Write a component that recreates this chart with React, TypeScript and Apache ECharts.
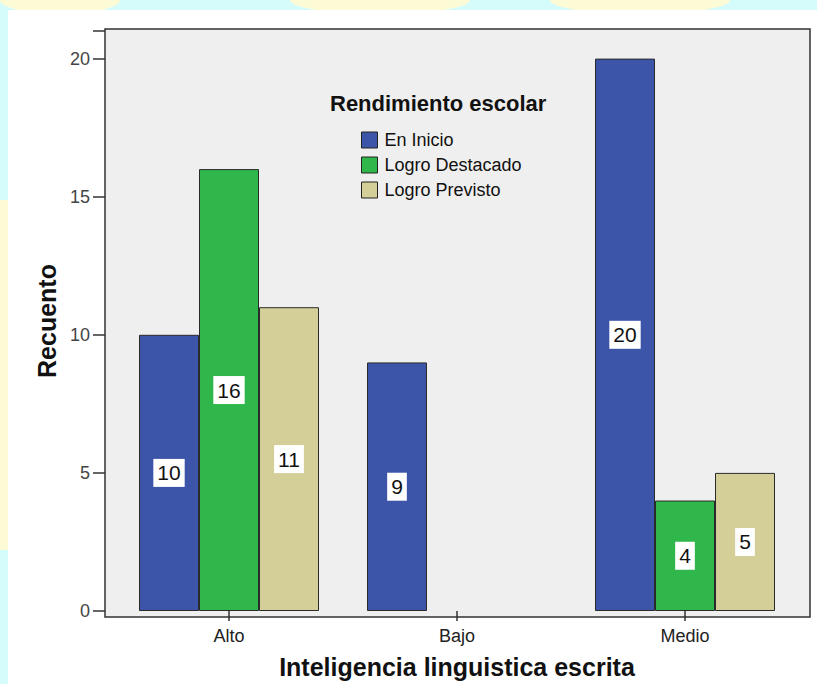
import React, { useEffect, useRef } from "react";
import * as echarts from "echarts";

const categories = ["Alto", "Bajo", "Medio"];
const seriesNames = ["En Inicio", "Logro Destacado", "Logro Previsto"];
const enInicio = [10, 9, 20];
const logroDestacado: (number | null)[] = [16, null, 4];
const logroPrevisto: (number | null)[] = [11, null, 5];
const yTicks = [0, 5, 10, 15, 20];

const colors = ["#3d55a8", "#30b74b", "#d4cf98"];
const FONT = "'Liberation Sans', Arial, sans-serif";

export default function App() {
  const ref = useRef<HTMLDivElement>(null);
  useEffect(() => {
    if (!ref.current) return;
    const chart = echarts.init(ref.current, undefined, { renderer: "svg" });
    const values = [enInicio, logroDestacado, logroPrevisto];
    const series = seriesNames.map((name, i) => ({
      name,
      type: "bar" as const,
      data: values[i],
      barWidth: 60,
      barGap: "0%",
      itemStyle: { color: colors[i], borderColor: "#2a2a2a", borderWidth: 1 },
      label: {
        show: true,
        position: "inside" as const,
        backgroundColor: "#ffffff",
        color: "#111",
        fontSize: 21,
        fontFamily: FONT,
        padding: [4, 4, 3, 4],
      },
      z: 3,
    }));
    chart.setOption({
      animation: false,
      backgroundColor: "#d6fbfb",
      textStyle: { fontFamily: FONT },
      graphic: [
        { type: "ellipse", shape: { cx: 60, cy: 0, rx: 60, ry: 14 }, style: { fill: "#fdfbd6" }, z: -10 },
        { type: "ellipse", shape: { cx: 380, cy: 0, rx: 90, ry: 14 }, style: { fill: "#fdfbd6" }, z: -10 },
        { type: "ellipse", shape: { cx: 640, cy: 0, rx: 90, ry: 14 }, style: { fill: "#fdfbd6" }, z: -10 },
        { type: "rect", shape: { x: 0, y: 200, width: 8, height: 350 }, style: { fill: "#fdfbd6" }, z: -10 },
        { type: "rect", shape: { x: 8, y: 10, width: 809, height: 674 }, style: { fill: "#ffffff" }, z: -9 },
        {
          type: "rect",
          shape: { x: 105, y: 29, width: 705, height: 588 },
          style: { fill: "#efefef", stroke: "#333", lineWidth: 1.5 },
          z: -8,
        },
      ],
      title: {
        text: "Rendimiento escolar",
        left: 330,
        top: 92,
        padding: 0,
        textStyle: { fontSize: 22, fontWeight: "bold", color: "#111", fontFamily: FONT },
      },
      legend: {
        orient: "vertical",
        left: 361,
        top: 131,
        padding: 0,
        itemWidth: 16,
        itemHeight: 16,
        itemGap: 7,
        icon: "rect",
        itemStyle: { borderColor: "#222", borderWidth: 1 },
        textStyle: { fontSize: 18, color: "#111", fontFamily: FONT, padding: [0, 0, 0, 2] },
        data: seriesNames,
      },
      grid: { left: 115, width: 684, top: 31, height: 586 },
      xAxis: {
        type: "category",
        data: categories,
        axisLine: { show: false },
        axisTick: { show: true, alignWithLabel: true, length: 10, lineStyle: { color: "#333", width: 1.5 } },
        axisLabel: { fontSize: 18, color: "#222", margin: 16 },
        name: "Inteligencia linguistica escrita",
        nameLocation: "middle",
        nameGap: 43,
        nameTextStyle: { fontSize: 25, fontWeight: "bold", color: "#111" },
      },
      yAxis: {
        type: "value",
        min: 0,
        max: 21,
        interval: 5,
        offset: 10,
        axisLine: { show: false },
        axisTick: { show: true, length: 12, lineStyle: { color: "#333", width: 1.5 } },
        splitLine: { show: false },
        axisLabel: {
          fontSize: 18,
          color: "#444",
          margin: 15,
          formatter: (v: number) => (yTicks.includes(v) ? String(v) : ""),
        },
        name: "Recuento",
        nameLocation: "middle",
        nameGap: 41,
        nameTextStyle: { fontSize: 25, fontWeight: "bold", color: "#111" },
      },
      series,
    });
    return () => chart.dispose();
  }, []);
  return (
    <div
      ref={ref}
      style={{ position: "absolute", left: 0, top: 0, width: 817, height: 684 }}
    />
  );
}
